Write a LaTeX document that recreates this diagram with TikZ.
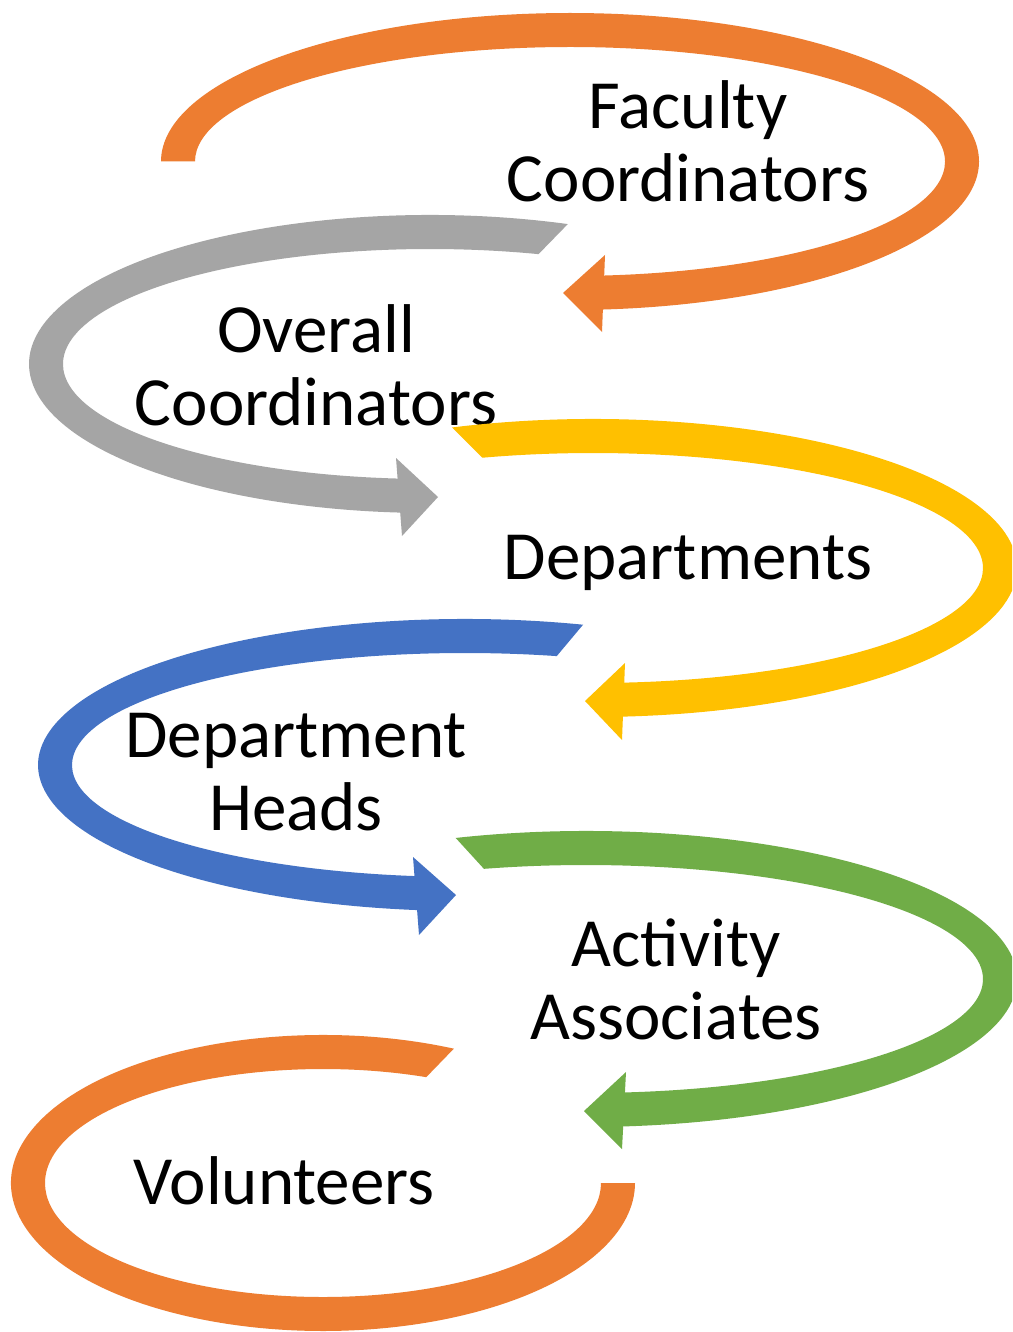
\documentclass[tikz,border=0pt]{standalone}
\usepackage{fontspec}
\setmainfont{Carlito}
\usetikzlibrary{calc}
\definecolor{cOrange}{HTML}{ED7D31}
\definecolor{cGray}{HTML}{A5A5A5}
\definecolor{cYellow}{HTML}{FFC000}
\definecolor{cBlue}{HTML}{4472C4}
\definecolor{cGreen}{HTML}{70AD47}
\tikzset{
  lbl/.style={align=center, inner sep=0pt, text=black, font=\fontsize{69}{73}\selectfont},
}
\begin{document}
\begin{tikzpicture}[x=1pt, y=-1pt]
\useasboundingbox (0,0) rectangle (1012,1332);
\clip (0,0) rectangle (1012,1332);
\fill[white] (0,0) rectangle (1012,1332);

% labels
\node[lbl] (fac) at (688,141) {Faculty\\Coordinators};
\node[lbl] (ovr) at (316,365) {Overall\\Coordinators};
\node[lbl] (dep) at (688,563) {Departments};
\node[lbl] (dh)  at (296,772) {Department\\Heads};
\node[lbl] (act) at (676,979) {Activity\\Associates};
\node[lbl] (vol) at (284,1181) {Volunteers};

% top orange band
\coordinate (cA) at (570,161.5);
\fill[cOrange] ($(cA)+(180:409 and 148.5)$) arc[start angle=180, end angle=447, x radius=409, y radius=148.5]
  -- ($(cA)+(447:375 and 114.5)$) arc[start angle=447, end angle=180, x radius=375, y radius=114.5] -- cycle;
\fill[cOrange] (563,293) -- (605,255) -- (602,332) -- cycle;

% gray band
\coordinate (cB) at (430,364);
\fill[cGray] ($(cB)+(290.1:401 and 149)$) arc[start angle=290.1, end angle=93, x radius=401, y radius=149]
  -- ($(cB)+(93:367 and 115)$) arc[start angle=93, end angle=287.2, x radius=367, y radius=115] -- cycle;
\fill[cGray] (438,497) -- (396,458) -- (402,536) -- cycle;

% yellow band
\coordinate (cC) at (593,568);
\fill[cYellow] ($(cC)+(250.6:424 and 149)$) arc[start angle=250.6, end angle=447.3, x radius=424, y radius=149]
  -- ($(cC)+(447.3:390 and 115)$) arc[start angle=447.3, end angle=253.5, x radius=390, y radius=115] -- cycle;
\fill[cYellow] (585,701) -- (625,663) -- (622,740) -- cycle;

% blue band
\coordinate (cD) at (465,765);
\fill[cBlue] ($(cD)+(286.05:427 and 146)$) arc[start angle=286.05, end angle=95.2, x radius=427, y radius=146]
  -- ($(cD)+(95.2:393 and 112)$) arc[start angle=95.2, end angle=283.5, x radius=393, y radius=112] -- cycle;
\fill[cBlue] (456,895) -- (413,857) -- (419,935) -- cycle;

% green band
\coordinate (cE) at (586,979);
\fill[cGreen] ($(cE)+(252.4:431 and 148)$) arc[start angle=252.4, end angle=446.4, x radius=431, y radius=148]
  -- ($(cE)+(446.4:397 and 114)$) arc[start angle=446.4, end angle=255.1, x radius=397, y radius=114] -- cycle;
\fill[cGreen] (584,1111) -- (626,1072) -- (622,1149) -- cycle;

% bottom orange band
\coordinate (cF) at (323,1183);
\fill[cOrange] ($(cF)+(294.8:312 and 148)$) arc[start angle=294.8, end angle=0, x radius=312, y radius=148]
  -- ($(cF)+(0:278 and 114)$) arc[start angle=0, end angle=291.8, x radius=278, y radius=114] -- cycle;
\end{tikzpicture}
\end{document}
